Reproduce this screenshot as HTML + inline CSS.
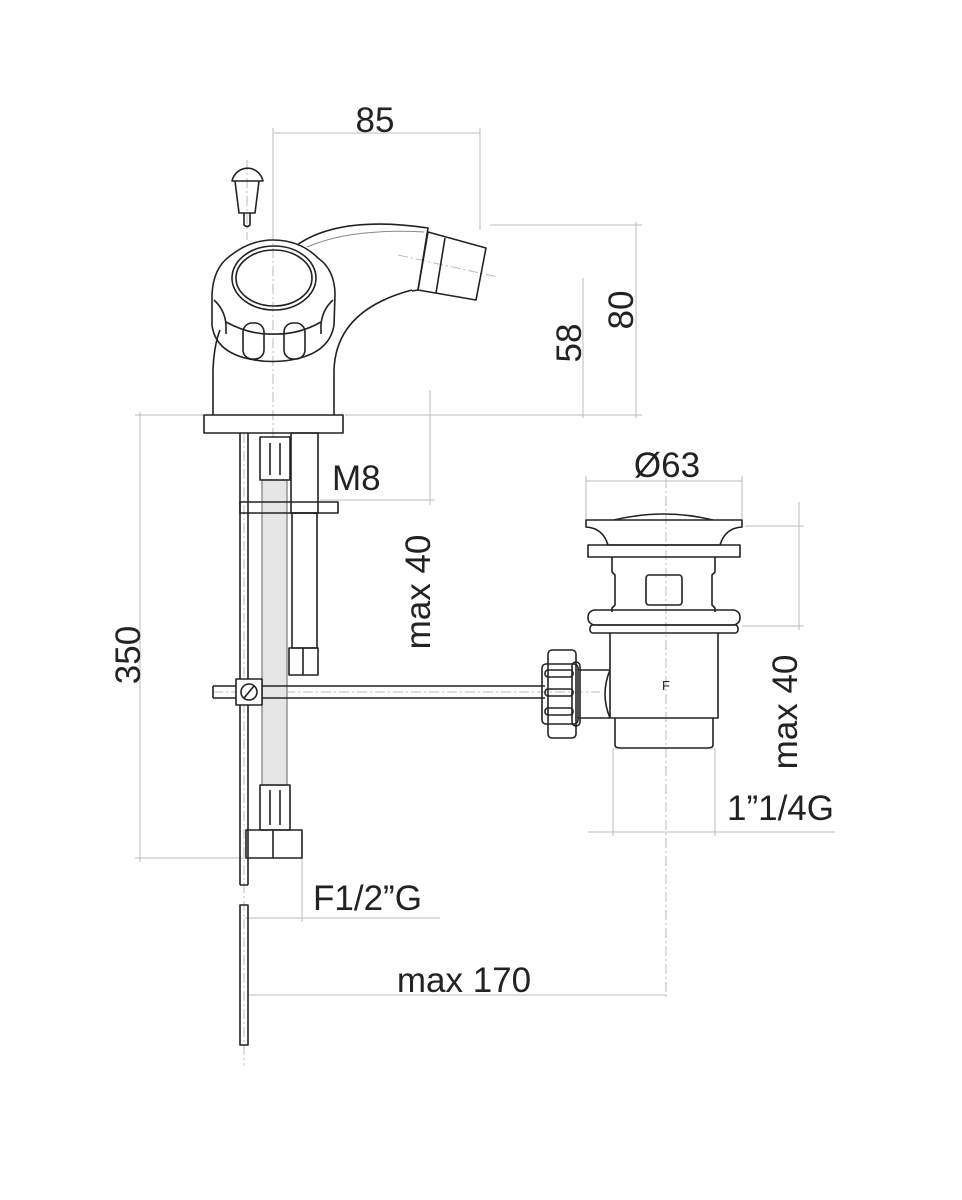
<!DOCTYPE html>
<html><head><style>
html,body{margin:0;padding:0;background:#fff}
svg{display:block}
text{font-family:"Liberation Sans",Arial,sans-serif;fill:#222}
</style></head><body>
<svg width="962" height="1200" viewBox="0 0 962 1200" xmlns="http://www.w3.org/2000/svg">
<g stroke="#bbb" stroke-width="1" fill="none">
  <!-- 85 -->
  <line x1="273" y1="133" x2="480" y2="133"/>
  <line x1="273" y1="128" x2="273" y2="240"/>
  <line x1="480" y1="128" x2="480" y2="230"/>
  <!-- 80 -->
  <line x1="490" y1="225" x2="642" y2="225"/>
  <line x1="345" y1="415" x2="642" y2="415"/>
  <line x1="636" y1="222" x2="636" y2="418"/>
  <!-- 58 -->
  <line x1="583" y1="278" x2="583" y2="418"/>
  <!-- 350 -->
  <line x1="135" y1="415" x2="204" y2="415"/>
  <line x1="135" y1="858" x2="246" y2="858"/>
  <line x1="140" y1="412" x2="140" y2="862"/>
  <!-- max40 left -->
  <line x1="430" y1="390" x2="430" y2="505"/>
  <line x1="320" y1="500" x2="435" y2="500"/>
  <!-- Ø63 -->
  <line x1="586" y1="481" x2="742" y2="481"/>
  <line x1="586" y1="476" x2="586" y2="520"/>
  <line x1="742" y1="476" x2="742" y2="520"/>
  <!-- max40 right -->
  <line x1="745" y1="526" x2="804" y2="526"/>
  <line x1="742" y1="626" x2="804" y2="626"/>
  <line x1="799" y1="502" x2="799" y2="630"/>
  <!-- 1 1/4 -->
  <line x1="588" y1="832" x2="835" y2="832"/>
  <line x1="613" y1="748" x2="613" y2="836"/>
  <line x1="715" y1="748" x2="715" y2="836"/>
  <!-- F1/2 -->
  <line x1="245" y1="918" x2="440" y2="918"/>
  <line x1="302" y1="858" x2="302" y2="922"/>
  <!-- max170 -->
  <line x1="248" y1="995" x2="666" y2="995"/>
  <line x1="666" y1="460" x2="666" y2="1000" stroke-dasharray="10 3 2 3"/>
  <!-- centerlines -->
  <line x1="273" y1="230" x2="273" y2="440" stroke-dasharray="10 3 2 3"/>
  <line x1="247" y1="160" x2="247" y2="240" stroke-dasharray="10 3 2 3"/>
  <line x1="398" y1="255" x2="498" y2="277" stroke-dasharray="10 3 2 3"/>
  <line x1="244" y1="433" x2="244" y2="1065" stroke-dasharray="10 3 2 3"/>
  <line x1="213" y1="692" x2="600" y2="692" stroke-dasharray="10 3 2 3"/>
</g>
<g stroke="#222" stroke-width="1.6" fill="none" stroke-linejoin="round">
  <!-- button -->
  <path d="M232 181 A16 17 0 0 1 263 181 Z"/>
  <path d="M235 181 L239 213 L255 213 L259 181"/>
  <path d="M244 213 L244 225 Q247 228 250 225 L250 213"/>
  <!-- body -->
  <path d="M213 415 L213 370 Q214 345 220 330"/>
  <path d="M334 415 L334 370 Q336 310 412 290"/>
  <!-- spout -->
  <path d="M297 245 Q340 215 428 228 L418 290 L412 291"/>
  <path d="M307 247 Q350 228 424 232" stroke="#888" stroke-width="1"/>
  <path d="M428 232 L486 248 L476 300 L418 290 Z"/>
  <path d="M445 238 L436 293"/>
  <!-- knob -->
  <path d="M273 240 Q300 240 318 258 Q335 270 335 295 L334 325 Q330 350 300 358 Q273 365 245 358 Q215 350 212 325 L212 295 Q213 268 230 256 Q250 240 273 240 Z"/>
  <ellipse cx="274" cy="278" rx="42" ry="32"/>
  <ellipse cx="274" cy="278" rx="38" ry="28"/>
  <path d="M214 300 Q225 310 226 325 L226 334"/>
  <path d="M333 300 Q322 310 321 325 L321 334"/>
  <path d="M226 322 Q250 335 273 334 Q298 335 321 322"/>
  <rect x="243" y="323" width="21" height="36" rx="9"/>
  <rect x="284" y="323" width="21" height="36" rx="9"/>
  <!-- base -->
  <rect x="204" y="415" width="139" height="18"/>
  <!-- rod -->
  <path d="M240 433 L240 885 M248 433 L248 885 M240 885 L248 885"/>
  <path d="M240 905 L240 1045 L248 1045 L248 905 Z"/>
  <!-- hose -->
  <rect x="262" y="480" width="25" height="305" fill="#e6e6e6" stroke="#999"/>
  <rect x="260" y="437" width="30" height="43"/>
  <line x1="270" y1="443" x2="270" y2="475"/><line x1="280" y1="443" x2="280" y2="475"/>
  <rect x="260" y="785" width="30" height="45"/>
  <line x1="270" y1="790" x2="270" y2="825"/><line x1="280" y1="790" x2="280" y2="825"/>
  <rect x="246" y="830" width="56" height="28"/>
  <line x1="273" y1="830" x2="273" y2="858"/>
  <!-- bracket & M8 -->
  <rect x="240" y="502" width="98" height="11"/>
  <rect x="291" y="433" width="27" height="80"/>
  <rect x="292" y="513" width="25" height="135"/>
  <rect x="289" y="648" width="29" height="27"/>
  <line x1="303" y1="648" x2="303" y2="675"/>
  <!-- horizontal rod -->
  <path d="M213 686 L545 686 M213 698 L545 698 M213 686 L213 698"/>
  <rect x="236" y="679" width="26" height="26" fill="#fff"/>
  <circle cx="249" cy="692" r="8"/>
  <line x1="244" y1="698" x2="254" y2="686"/>
  <!-- waste -->
  <path d="M614 520 Q664 508 713 520"/>
  <path d="M586 520 L742 520 L742 527 Q725 528 720 545 L608 545 Q603 528 586 527 Z"/>
  <rect x="588" y="545" width="152" height="12"/>
  <path d="M612 557 L612 572 L615 575 L615 605 L612 608 L612 612 M715 557 L715 572 L712 575 L712 605 L715 608 L715 612"/>
  <rect x="646" y="575" width="36" height="30" rx="3"/>
  <rect x="588" y="610" width="152" height="15" rx="7"/>
  <rect x="590" y="625" width="148" height="8" rx="3"/>
  <path d="M610 633 L610 718 L718 718 L718 633"/>
  <path d="M615 718 L615 745 Q615 748 620 748 L708 748 Q713 748 713 745 L713 718"/>
  <path d="M610 670 L578 670 M610 718 L578 718 M610 670 Q600 694 610 718"/>
  <rect x="548" y="650" width="28" height="88" rx="4"/>
  <rect x="542" y="664" width="36" height="60" rx="4"/>
  <rect x="572" y="662" width="8" height="64" rx="4"/>
  <rect x="545" y="670" width="28" height="7" rx="3"/>
  <rect x="545" y="689" width="28" height="7" rx="3"/>
  <rect x="545" y="708" width="28" height="7" rx="3"/>
</g>
<text x="662" y="690" font-size="13" fill="#777">F</text>
<text x="375" y="132" font-size="35" text-anchor="middle">85</text>
<text transform="translate(633 310) rotate(-90)" font-size="35" text-anchor="middle">80</text>
<text transform="translate(581 343) rotate(-90)" font-size="35" text-anchor="middle">58</text>
<text transform="translate(140 655) rotate(-90)" font-size="35" text-anchor="middle">350</text>
<text transform="translate(430 592) rotate(-90)" font-size="35" text-anchor="middle">max 40</text>
<text x="332" y="490" font-size="35">M8</text>
<text x="667" y="477" font-size="35" text-anchor="middle">Ø63</text>
<text transform="translate(797 712) rotate(-90)" font-size="35" text-anchor="middle">max 40</text>
<text x="727" y="820" font-size="35">1”1/4G</text>
<text x="313" y="910" font-size="35">F1/2”G</text>
<text x="464" y="992" font-size="35" text-anchor="middle">max 170</text>
</svg>
</body></html>
